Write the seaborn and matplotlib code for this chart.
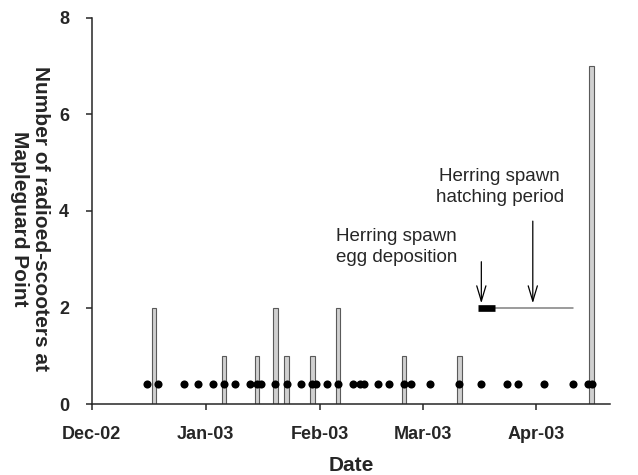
import pandas as pd
import seaborn as sns
import matplotlib.pyplot as plt
import matplotlib.dates as mdates

# Days when radioed scooters were found at the point, and how many
bar_dates = ['2002-12-18', '2003-01-06', '2003-01-15', '2003-01-20', '2003-01-23',
             '2003-01-30', '2003-02-06', '2003-02-24', '2003-03-11', '2003-04-16']
bar_counts = [2, 1, 1, 2, 1, 1, 2, 1, 1, 7]

# Survey days (black dots along the bottom)
survey_dates = ['2002-12-16', '2002-12-19', '2002-12-26', '2002-12-30', '2003-01-03',
                '2003-01-06', '2003-01-09', '2003-01-13', '2003-01-15', '2003-01-16',
                '2003-01-20', '2003-01-23', '2003-01-27', '2003-01-30', '2003-01-31',
                '2003-02-03', '2003-02-06', '2003-02-10', '2003-02-12', '2003-02-13',
                '2003-02-17', '2003-02-20', '2003-02-24', '2003-02-26', '2003-03-03',
                '2003-03-11', '2003-03-17', '2003-03-24', '2003-03-27', '2003-04-03',
                '2003-04-11', '2003-04-15', '2003-04-16']
survey_level = 0.43

# Herring spawn periods
egg_period = ['2003-03-16', '2003-03-20 20:00']
hatch_period = ['2003-03-20 20:00', '2003-04-11']
period_level = 2
egg_arrow_date = '2003-03-17'
hatch_arrow_date = '2003-03-31'

month_ticks = ['2002-12-01', '2003-01-01', '2003-02-01', '2003-03-01', '2003-04-01']
x_range = ['2002-12-01', '2003-04-21']
y_ticks = [0, 2, 4, 6, 8]


def to_num(dates):
    return mdates.date2num(pd.to_datetime(dates, format='ISO8601'))


sns.set_style('ticks')
plt.rcParams['font.family'] = ['Liberation Sans', 'DejaVu Sans']

fig = plt.figure(figsize=(6.38, 4.75), dpi=100)
ax = fig.add_axes([0.1437, 0.1488, 0.8124, 0.8141])

bars = pd.DataFrame({'date': to_num(bar_dates), 'count': bar_counts})
sns.barplot(data=bars, x='date', y='count', native_scale=True, orient='x',
            width=0.42, color='#d0d0d0', edgecolor='#5a5a5a', linewidth=0.8,
            saturation=1, errorbar=None, ax=ax)

dots = pd.DataFrame({'date': to_num(survey_dates), 'y': [survey_level] * len(survey_dates)})
sns.scatterplot(data=dots, x='date', y='y', color='black', s=34, linewidth=0,
                zorder=3, ax=ax)

# spawn periods
ax.plot(to_num(hatch_period), [period_level] * 2, color='#808080', lw=1.1, zorder=3)
ax.plot(to_num(egg_period), [period_level] * 2, color='black', lw=4.8,
        solid_capstyle='butt', zorder=4)

arrow = dict(arrowstyle='->,head_length=1.1,head_width=0.33', mutation_scale=10,
             color='black', lw=0.9, shrinkA=0, shrinkB=0)
ax.annotate('', xy=(to_num([egg_arrow_date])[0], 2.09),
            xytext=(to_num([egg_arrow_date])[0], 2.95), arrowprops=arrow)
ax.annotate('', xy=(to_num([hatch_arrow_date])[0], 2.09),
            xytext=(to_num([hatch_arrow_date])[0], 3.79), arrowprops=arrow)

ax.text(to_num(['2003-02-22'])[0], 3.25, 'Herring spawn\negg deposition',
        ha='center', va='center', fontsize=13.5, linespacing=1.3)
ax.text(to_num(['2003-03-22'])[0], 4.49, 'Herring spawn\nhatching period',
        ha='center', va='center', fontsize=13.5, linespacing=1.3)

ax.set_xlim(to_num(x_range))
ax.set_ylim(0, 8)
ax.set_yticks(y_ticks)
ax.set_xticks(to_num(month_ticks))
ax.xaxis.set_major_formatter(mdates.DateFormatter('%b-%y'))
ax.tick_params(axis='both', direction='out', length=4.3, width=1.1, labelsize=13)
ax.tick_params(axis='x', pad=11)
ax.tick_params(axis='y', pad=12)
for lab in ax.get_xticklabels() + ax.get_yticklabels():
    lab.set_fontweight('bold')

ax.set_xlabel('Date', fontsize=15, fontweight='bold', labelpad=9.5)
ax.set_ylabel('')
fig.text(30 / 638, 1 - 219 / 475, 'Number of radioed-scooters at\nMapleguard Point',
         rotation=270, ha='center', va='center', multialignment='center',
         fontsize=15, fontweight='bold', linespacing=1.1)

sns.despine(ax=ax)
for side in ['left', 'bottom']:
    ax.spines[side].set_linewidth(1.1)

fig.savefig('out.png', dpi=100)
